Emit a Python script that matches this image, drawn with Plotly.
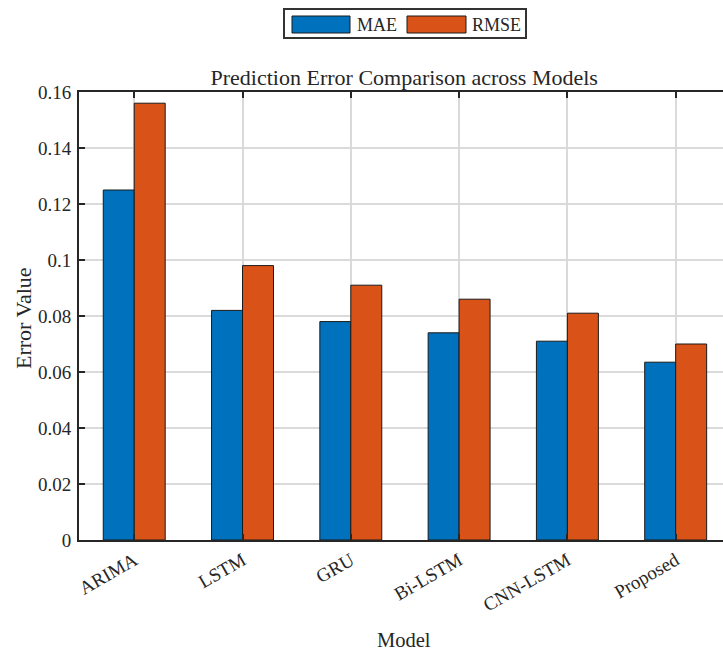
import plotly.graph_objects as go

# Model error metrics
models = ["ARIMA", "LSTM", "GRU", "Bi-LSTM", "CNN-LSTM", "Proposed"]
mae = [0.125, 0.082, 0.078, 0.074, 0.071, 0.0635]
rmse = [0.156, 0.098, 0.091, 0.086, 0.081, 0.070]

y_ticks = [0, 0.02, 0.04, 0.06, 0.08, 0.1, 0.12, 0.14, 0.16]
y_tick_text = ["0", "0.02", "0.04", "0.06", "0.08", "0.1", "0.12", "0.14", "0.16"]

BLUE = "#0072BD"
ORANGE = "#D95319"
INK = "#262626"
FONT = "Liberation Serif"

positions = list(range(1, len(models) + 1))

fig = go.Figure()
fig.add_trace(go.Bar(x=positions, y=mae, name="MAE", marker_color=BLUE,
                     marker_line=dict(color="#1a1a1a", width=1), showlegend=False))
fig.add_trace(go.Bar(x=positions, y=rmse, name="RMSE", marker_color=ORANGE,
                     marker_line=dict(color="#1a1a1a", width=1), showlegend=False))

fig.update_layout(
    width=723, height=654,
    margin=dict(l=79, r=0, t=92, b=114),
    paper_bgcolor="white", plot_bgcolor="white",
    barmode="group", bargap=0.428, bargroupgap=0,
    font=dict(family=FONT, size=19, color=INK),
    title=dict(text="Prediction Error Comparison across Models",
               x=0.505, xref="paper", xanchor="center",
               y=1, yref="paper", yanchor="bottom", pad=dict(b=7),
               font=dict(family=FONT, size=22, color=INK)),
)

fig.update_xaxes(
    range=[0.49, 6.437], tickvals=positions, ticktext=models, tickangle=-30,
    showline=True, linewidth=2, linecolor=INK, mirror="ticks",
    ticks="inside", ticklen=6, tickwidth=1.5, tickcolor=INK,
    showgrid=True, gridcolor="#dadada", gridwidth=1.5,
    tickfont=dict(family=FONT, size=19, color=INK), zeroline=False,
)
fig.update_yaxes(
    range=[0, 0.16], tickvals=y_ticks, ticktext=y_tick_text,
    showline=True, linewidth=2, linecolor=INK,
    ticks="inside", ticklen=6, tickwidth=1.5, tickcolor=INK,
    showgrid=True, gridcolor="#dadada", gridwidth=1.5,
    tickfont=dict(family=FONT, size=19, color=INK), zeroline=False,
    ticklabelstandoff=2,
)

# Axis titles
fig.add_annotation(text="Model", xref="paper", yref="paper", x=0.505, y=-0.223,
                   xanchor="center", yanchor="middle", showarrow=False,
                   font=dict(family=FONT, size=20.5, color=INK))
fig.add_annotation(text="Error Value", xref="paper", yref="paper", x=-0.085, y=0.496,
                   xanchor="center", yanchor="middle", textangle=-90, showarrow=False,
                   font=dict(family=FONT, size=22, color=INK))

# Legend box with wide colour patches, placed above the axes
def px_x(v):
    return (v - 79) / 644

def px_y(v):
    return (540 - v) / 448

fig.add_shape(type="rect", xref="paper", yref="paper",
              x0=px_x(284), x1=px_x(526), y0=px_y(38), y1=px_y(9),
              line=dict(color="#333333", width=2), fillcolor="white")
for name, color, x0, x1, tx in [("MAE", BLUE, 292, 350, 355), ("RMSE", ORANGE, 407, 466, 470)]:
    fig.add_shape(type="rect", xref="paper", yref="paper",
                  x0=px_x(x0), x1=px_x(x1), y0=px_y(33), y1=px_y(16),
                  line=dict(color="#1a1a1a", width=1), fillcolor=color)
    fig.add_annotation(text=name, xref="paper", yref="paper", x=px_x(tx), y=px_y(24.5),
                       xanchor="left", yanchor="middle", showarrow=False,
                       font=dict(family=FONT, size=18, color=INK))

fig.write_html("out.html")
